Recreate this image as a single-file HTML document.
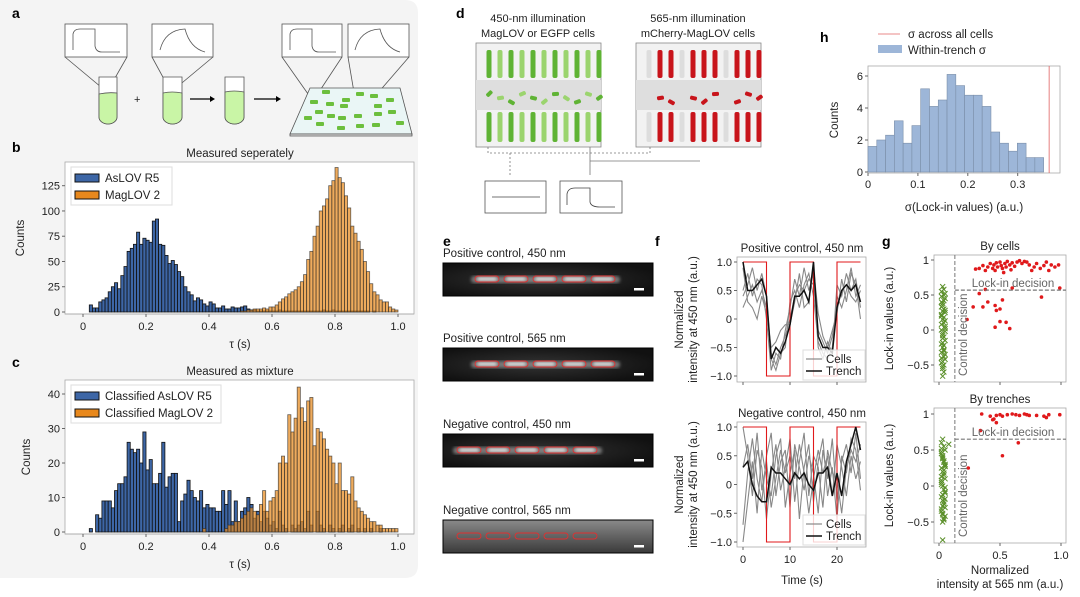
<!DOCTYPE html>
<html><head><meta charset="utf-8"><style>
body{margin:0;background:#fff;}
svg{display:block;font-family:"Liberation Sans",sans-serif;}
.t{font-size:11px;fill:#222}
.L{font-size:14px;font-weight:bold;fill:#000}
</style></head><body>
<svg id="fig" width="1080" height="597" viewBox="0 0 1080 597">
<path d="M0 0 H405 Q418 0 418 13 V565 Q418 578 405 578 H0 Z" fill="#f4f4f4"/>
<text class="L" x="12" y="18">a</text>
<text class="L" x="12" y="152">b</text>
<text class="L" x="12" y="367">c</text>
<text class="L" x="456" y="18">d</text>
<text class="L" x="443" y="246">e</text>
<text class="L" x="655" y="246">f</text>
<text class="L" x="882" y="246">g</text>
<text class="L" x="820" y="42">h</text>
<g id="pa" stroke="#555" fill="none" stroke-width="0.8">
 <rect x="65" y="24" width="62" height="33" fill="#fff"/>
 <path d="M73 50 V34 Q74 29 80 29 H95 V46 Q96 52 102 52 H120" />
 <rect x="152" y="24" width="61" height="33" fill="#fff"/>
 <path d="M160 50 Q165 30 185 29 Q190 48 205 52" />
 <rect x="282" y="24" width="60" height="33" fill="#fff"/>
 <path d="M290 50 V34 Q291 29 297 29 H312 V46 Q313 52 319 52 H336" />
 <rect x="348" y="24" width="61" height="33" fill="#fff"/>
 <path d="M355 50 Q360 30 380 29 Q385 48 400 52" />
 <path d="M65 57 L107 92 L127 57 M152 57 L171 92 L213 57 M282 57 L313 101 L342 57 M348 57 L358 116 L409 57"/>
 <path d="M99 77 V117 A9 7 0 0 0 117 117 V77 Z" fill="#fff"/>
 <path d="M99 94 Q108 92 117 93 V117 A9 7 0 0 1 99 117 Z" fill="#c9f5a6"/>
 <path d="M163 77 V117 A9.5 7 0 0 0 182 117 V77 Z" fill="#fff"/>
 <path d="M163 93 Q172 91 182 93 V117 A9.5 7 0 0 1 163 117 Z" fill="#c9f5a6"/>
 <path d="M225 77 V117 A9.5 7 0 0 0 244 117 V77 Z" fill="#fff"/>
 <path d="M225 92 Q234 90 244 92 V117 A9.5 7 0 0 1 225 117 Z" fill="#c9f5a6"/>
 <path d="M310 88 H400 L412 134 H290 Z" fill="#eaf6f6"/>
 <path d="M290 134 H412 V136 H290 Z" fill="#ddd"/>
 <text x="134" y="103" stroke="none" fill="#222" font-size="11">+</text>
 <path d="M190 99 H210 M254 99 H276" stroke="#000" stroke-width="1.3"/>
 <path d="M210 96 L215 99 L210 102 Z M276 96 L281 99 L276 102 Z" fill="#000" stroke="none"/>
 <g fill="#6cbf3e" stroke="none">
  <rect x="310" y="100" width="8" height="4" rx="1"/><rect x="322" y="90" width="8" height="4" rx="1"/><rect x="326" y="102" width="8" height="4" rx="1"/><rect x="342" y="98" width="8" height="4" rx="1"/><rect x="356" y="92" width="8" height="4" rx="1"/><rect x="370" y="94" width="8" height="4" rx="1"/><rect x="386" y="98" width="8" height="4" rx="1"/><rect x="315" y="110" width="8" height="4" rx="1"/><rect x="327" y="114" width="8" height="4" rx="1"/><rect x="340" y="104" width="8" height="4" rx="1"/><rect x="304" y="116" width="8" height="4" rx="1"/><rect x="316" y="122" width="8" height="4" rx="1"/><rect x="338" y="116" width="8" height="4" rx="1"/><rect x="354" y="114" width="8" height="4" rx="1"/><rect x="374" y="112" width="8" height="4" rx="1"/><rect x="388" y="110" width="8" height="4" rx="1"/><rect x="337" y="126" width="8" height="4" rx="1"/><rect x="356" y="124" width="8" height="4" rx="1"/><rect x="372" y="123" width="8" height="4" rx="1"/><rect x="396" y="121" width="8" height="4" rx="1"/><rect x="374" y="104" width="8" height="4" rx="1"/>
 </g>
</g>
<g id="pd">
 <text class="t" x="538" y="22" text-anchor="middle" font-size="12">450-nm illumination</text>
 <text class="t" x="538" y="37" text-anchor="middle" font-size="12">MagLOV or EGFP cells</text>
 <text class="t" x="698" y="22" text-anchor="middle" font-size="12">565-nm illumination</text>
 <text class="t" x="698" y="37" text-anchor="middle" font-size="12">mCherry-MagLOV cells</text>
 <rect x="476" y="43" width="125" height="104" fill="#f2f2f2" stroke="#888" stroke-width="0.8"/>
 <rect x="476" y="80" width="125" height="30" fill="#dedede"/>
 <rect x="636" y="43" width="125" height="104" fill="#f2f2f2" stroke="#888" stroke-width="0.8"/>
 <rect x="636" y="80" width="125" height="30" fill="#dedede"/>
 <g id="dcols"></g>
 <path d="M488 147 V153 H650 V147 M510 153 V175" stroke="#777" stroke-dasharray="2,2" fill="none" stroke-width="0.8"/>
 <path d="M590 147 V175 M590 161 H700" stroke="#777" fill="none" stroke-width="0.8"/>
 <rect x="485" y="181" width="61" height="32" fill="#fff" stroke="#555" stroke-width="0.8"/>
 <path d="M492 197 H540" stroke="#444" stroke-width="0.8"/>
 <rect x="560" y="181" width="62" height="32" fill="#fff" stroke="#555" stroke-width="0.8"/>
 <path d="M567 205 V194 Q568 188 575 188 H590 V202 Q591 207 600 207 H615" stroke="#444" fill="none" stroke-width="0.8"/>
</g>
<g id="pe">
 <defs>
  <radialGradient id="gl" cx="0.45" cy="0.5" r="0.6"><stop offset="0" stop-color="#333"/><stop offset="1" stop-color="#111"/></radialGradient>
  <linearGradient id="gn" x1="0" y1="0" x2="0" y2="1"><stop offset="0" stop-color="#8a8a8a"/><stop offset="1" stop-color="#3a3a3a"/></linearGradient>
  <filter id="blur"><feGaussianBlur stdDeviation="1.6"/></filter>
 </defs>
</g>
<g id="charts"></g>
</svg>
<script>
// ---------- data ----------
const blueB = [0,0,7,4,4,10,12,14,20,25,29,23,36,45,60,63,67,79,67,73,71,69,90,92,67,66,56,48,51,47,40,35,25,20,17,11,14,12,8,6,10,8,4,4,6,3,3,5,4,4,5,6,3,2,2,1,1,1,1,1,1,1,2,1,1,1,1,1,1,1,1,1,1,1,1,1,2,1,1,2,1,1,1,1,1,1,1,1,1,1,1,0,1,0,0,0,0,0,0,0];
const orangeB = [0,0,0,0,0,0,0,0,0,0,0,0,0,0,0,0,0,0,0,0,0,0,0,0,0,0,0,0,0,0,0,0,0,0,0,0,0,0,0,0,0,0,0,0,0,0,0,0,0,0,1,1,2,2,3,3,3,4,3,5,5,7,10,13,15,18,20,22,25,30,37,52,60,75,85,100,105,112,125,130,143,133,128,115,103,85,78,70,62,50,40,28,20,17,12,10,10,5,3,2];
const blueC = [0,0,1,0,5,4,9,9,9,7,12,14,14,16,26,24,23,24,20,29,18,21,14,14,17,26,13,16,17,17,3,9,11,15,12,10,9,12,7,8,7,7,6,6,12,8,12,3,9,3,6,7,10,8,4,6,3,6,4,2,3,1,6,2,1,0,2,1,2,3,1,6,2,0,6,2,1,0,2,1,0,1,2,0,1,2,0,1,0,1,0,1,0,0,1,0,0,0,0,0];
const orangeC = [0,0,0,0,0,0,0,0,0,0,0,0,0,0,0,0,0,0,0,0,0,0,0,0,0,0,0,0,0,0,0,0,0,0,0,0,0,0,1,0,0,0,0,0,0,1,2,2,3,3,4,5,6,7,6,5,8,12,6,9,10,12,20,22,20,34,29,33,42,36,32,38,39,25,30,29,27,24,22,20,14,20,12,12,11,16,9,7,6,5,4,3,3,2,2,1,1,1,1,1];
const hTicksB = [0,25,50,75,100,125];
const hTicksC = [0,10,20,30,40];
const tauTicks = [0,0.2,0.4,0.6,0.8,1.0];
const sigmaCounts = [1.6,2,2.3,3.2,1.8,2.9,5.2,4.1,4.5,6.1,5.4,4.8,4.8,4.1,2.5,1.8,1.3,1.8,0.9,0.9];
const sigmaBinWidth = 0.0176;
const sigmaAll = 0.363;
const sigmaXTicks = [0,0.1,0.2,0.3];
const sigmaYTicks = [0,2,4,6];
const timeVals = [0,1,2,3,4,5,6,7,8,9,10,11,12,13,14,15,16,17,18,19,20,21,22,23,24,25];
const stimT = [0,5,5,10,10,15,15,20,20,25];
const stimV = [1,1,-1,-1,1,1,-1,-1,1,1];
const posCell1 = [0.2,0.4,0.6,0.3,0.5,0.2,-0.6,-0.8,-0.5,-0.3,0.0,0.4,0.6,0.5,0.7,0.6,-0.2,-0.4,-0.6,-0.3,0.2,0.5,0.6,0.4,0.3,0.5];
const posCell2 = [0.5,0.8,0.4,0.7,0.6,0.0,-0.9,-0.6,-0.7,-0.2,0.2,0.7,0.4,0.9,0.5,0.8,-0.5,-0.7,-0.4,-0.6,0.6,0.4,0.8,0.5,0.7,0.2];
const posCell3 = [0.9,0.3,0.2,0.0,0.4,0.1,-0.5,-0.4,-0.2,-0.1,-0.1,0.3,0.8,0.2,0.3,0.9,0.1,-0.3,-0.5,-0.2,0.1,0.7,0.3,0.8,0.6,0.0];
const posCell4 = [0.4,0.6,0.9,0.5,0.8,0.4,-0.7,-0.9,-0.6,-0.5,0.3,0.5,0.2,0.6,0.8,0.4,-0.4,-0.6,-0.7,-0.5,0.4,0.2,0.5,0.9,0.4,0.6];
const posTrench = [1.0,0.5,0.5,0.6,0.7,0.4,-0.7,-0.5,-0.6,-0.4,-0.1,0.4,0.4,0.5,0.3,1.0,-0.3,-0.5,-0.5,-0.6,0.2,0.5,0.6,0.5,0.6,0.3];
const negCell1 = [-0.7,0.2,0.8,0.1,-0.3,0.5,0.9,-0.2,0.4,0.6,-0.4,0.7,0.3,-0.1,0.5,0.2,-0.5,0.6,0.1,0.8,-0.3,0.4,0.7,0.2,0.9,0.1];
const negCell2 = [1.0,0.5,-0.2,0.6,0.3,-0.6,0.2,0.7,-0.1,0.3,0.8,-0.3,0.4,0.9,-0.2,0.5,0.3,-0.4,0.6,0.2,0.1,-0.5,0.3,0.6,0.4,0.7];
const negCell3 = [-1.0,-0.3,0.4,-0.5,0.6,0.1,-0.2,0.5,0.8,-0.4,0.2,0.6,-0.6,0.3,0.7,-0.3,0.4,0.8,-0.2,0.3,-0.6,0.5,0.2,0.8,0.6,-0.1];
const negCell4 = [0.3,0.7,0.1,0.9,-0.1,0.4,-0.4,0.1,0.6,0.2,0.5,0.1,0.7,0.2,-0.5,0.1,0.6,0.2,0.5,-0.2,0.7,0.3,-0.2,0.5,0.1,0.4];
const negTrench = [0.3,0.4,0.0,-0.2,-0.3,-0.3,0.3,0.2,0.2,0.1,0.0,0.2,0.1,0.2,0.0,-0.1,0.2,0.2,0.3,-0.2,0.2,-0.2,0.4,0.7,1.0,0.6];
const fYTicks = [-1.0,-0.5,0,0.5,1.0];
const fXTicks = [0,10,20];
const greenTopY = [0.62,0.55,0.5,0.45,0.4,0.35,0.3,0.25,0.2,0.15,0.1,0.05,0,-0.05,-0.1,-0.15,-0.2,-0.25,-0.3,-0.35,-0.4,-0.45,-0.5,-0.55,-0.66,0.58,0.48,0.38,0.28,0.18,0.08,-0.02,-0.12,-0.22,-0.32,-0.42,-0.52,0.42,0.22,0.02,-0.18,-0.38,0.33,0.13,-0.08,-0.28,-0.47,0.52,0.27,-0.6];
const greenTopX = [0.03,0.02,0.04,0.05,0.02,0.03,0.04,0.05,0.02,0.03,0.04,0.05,0.02,0.03,0.04,0.05,0.02,0.03,0.04,0.05,0.02,0.03,0.04,0.03,0.03,0.04,0.02,0.03,0.05,0.04,0.02,0.05,0.03,0.04,0.02,0.05,0.03,0.04,0.02,0.05,0.03,0.04,0.02,0.05,0.03,0.04,0.02,0.05,0.03,0.04];
const redTopX = [0.3,0.33,0.36,0.38,0.4,0.42,0.44,0.45,0.47,0.48,0.5,0.51,0.52,0.54,0.55,0.56,0.58,0.6,0.62,0.64,0.66,0.68,0.7,0.72,0.74,0.76,0.78,0.8,0.83,0.86,0.88,0.9,0.92,0.95,0.98,0.46,0.53,0.59,0.33,0.38,0.28,0.36,0.4,0.46,0.47,0.5,0.52,0.46,0.5,0.55,0.58,0.84,0.23,0.6,0.99];
const redTopY = [0.87,0.88,0.92,0.85,0.9,0.95,0.88,0.93,0.96,0.9,0.97,0.92,0.88,0.95,0.9,0.98,0.93,0.96,0.91,0.97,0.99,0.95,0.98,0.97,0.93,0.85,0.9,0.95,0.88,0.92,0.97,0.85,0.93,0.9,0.93,0.85,0.82,0.86,0.52,0.58,0.33,0.33,0.4,0.35,0.28,0.3,0.43,0.04,0.12,0.11,0.02,0.47,0.15,0.6,0.6];
const greenBotY = [0.65,0.6,0.55,0.5,0.45,0.4,0.35,0.3,0.25,0.2,0.15,0.1,0.05,0,-0.05,-0.1,-0.15,-0.2,-0.25,-0.3,-0.35,-0.4,-0.45,-0.5,-0.75,0.58,0.48,0.38,0.28,0.18,0.08,-0.02,-0.12,-0.22,-0.32,-0.42,0.42,0.22,0.02,-0.18,-0.38,0.33,0.13,-0.08,-0.28,-0.47,0.52,0.27];
const greenBotX = [0.03,0.02,0.04,0.05,0.02,0.03,0.04,0.05,0.02,0.03,0.04,0.05,0.02,0.03,0.04,0.05,0.02,0.03,0.04,0.05,0.02,0.03,0.04,0.03,0.03,0.08,0.02,0.03,0.05,0.04,0.02,0.05,0.03,0.04,0.02,0.05,0.03,0.04,0.02,0.05,0.03,0.04,0.02,0.05,0.03,0.04,0.02,0.05];
const redBotX = [0.35,0.42,0.45,0.47,0.5,0.52,0.56,0.6,0.63,0.66,0.7,0.72,0.74,0.8,0.86,0.88,0.9,0.99,0.47,0.44,0.34,0.65,0.52,0.24];
const redBotY = [1.0,0.97,0.93,0.98,0.99,0.97,0.99,1.0,0.99,0.98,1.0,0.99,0.98,0.98,0.97,0.95,0.99,0.99,0.88,0.92,0.77,0.6,0.42,0.25];
const gXTicks = [0,0.5,1.0];
const gYTicks = [-0.5,0,0.5,1.0];

// ---------- helpers ----------
const NS = "http://www.w3.org/2000/svg";
const root = document.getElementById('charts');
function mk(tag, attrs, parent){ const e=document.createElementNS(NS,tag); for(const k in attrs) e.setAttribute(k,attrs[k]); (parent||root).appendChild(e); return e; }
function txt(s,x,y,anchor,size,parent,rot){ const e=mk('text',{x:x,y:y,'text-anchor':anchor||'middle','font-size':size||11,fill:'#222'},parent); if(rot) e.setAttribute('transform','rotate(-90 '+x+' '+y+')'); e.textContent=s; return e; }
function lin(d0,d1,r0,r1){ return v=>r0+(v-d0)/(d1-d0)*(r1-r0); }
function fmt(v){ return v<0 ? '\u2212'+Math.abs(v).toFixed(String(v).includes('.')?1:0) : String(v); }

// ---------- histogram panels b, c ----------
function histPanel(name, box, ymax, yTicks, blue, orange, title, leg1, leg2, legW){
  const g = mk('g',{});
  
  
  const fr = mk('rect',{x:box.x0,y:box.y0,width:box.x1-box.x0,height:box.y1-box.y0,fill:'#fff',stroke:'#aaa','stroke-width':0.8},g);
  
  
  const X = lin(0,1,83,398), Y = lin(0,ymax.v,box.base,ymax.px);
  const bw = X(0.01)-X(0);
  blue.forEach((c,i)=>{ if(c<=0) return;
    const r = mk('rect',{x:X(i*0.01),y:Y(c),width:bw,height:box.base-Y(c),fill:'#3d66a6',stroke:'#111','stroke-width':0.8},g);
    
    
  });
  orange.forEach((c,i)=>{ if(c<=0) return;
    const r = mk('rect',{x:X(i*0.01),y:Y(c),width:bw,height:box.base-Y(c),fill:'rgba(232,138,30,0.72)',stroke:'rgba(40,40,40,0.7)','stroke-width':0.8},g);
    
    
  });
  mk('line',{x1:box.x0,x2:box.x1,y1:box.y1,y2:box.y1,stroke:'#aaa','stroke-width':0.8},g);
  yTicks.forEach(t=>{ mk('line',{x1:box.x0-3,x2:box.x0,y1:Y(t),y2:Y(t),stroke:'#666'},g);
    const l=txt(String(t),box.x0-5,Y(t)+4,'end',11,g);
    
     });
  tauTicks.forEach(t=>{ mk('line',{x1:X(t),x2:X(t),y1:box.y1,y2:box.y1+3,stroke:'#666'},g);
    const l=txt(t===0?'0':t.toFixed(1),X(t),box.y1+16,'middle',11,g);
    
     });
  const tl=txt(title,240,box.y0-5,'middle',11.5,g);
  
  
  const xl=txt('\u03c4 (s)',240,box.y1+34,'middle',11.5,g);
  
  
  const yl=txt('Counts',box.ylx,(box.y0+box.y1)/2,'middle',11.5,g,true);
  
  
  const lg = mk('g',{},g);
  
  
  mk('rect',{x:71,y:box.y0+5,width:legW,height:38,fill:'#fff',stroke:'#ddd'},lg);
  mk('rect',{x:75,y:box.y0+12,width:24,height:8,fill:'#3d66a6',stroke:'#111'},lg);
  mk('rect',{x:75,y:box.y0+29,width:24,height:8,fill:'#e8881c',stroke:'#111'},lg);
  const e1=txt(leg1,105,box.y0+20,'start',11.5,lg);
  
  
  const e2=txt(leg2,105,box.y0+37,'start',11.5,lg);
  
  
}
histPanel('panel-b-histogram',{x0:65,x1:414,y0:162,y1:314,base:312,ylx:24},{v:125,px:185.7},hTicksB,blueB,orangeB,'Measured seperately','AsLOV R5','MagLOV 2',101);
histPanel('panel-c-histogram',{x0:65,x1:414,y0:380,y1:534,base:532,ylx:30},{v:40,px:394},hTicksC,blueC,orangeC,'Measured as mixture','Classified AsLOV R5','Classified MagLOV 2',150);

// ---------- panel h ----------
(function(){
  const g = mk('g',{});
  
  
  const x0=868,x1=1060,y0=66,y1=173;
  mk('rect',{x:x0,y:y0,width:x1-x0,height:y1-y0,fill:'#fff',stroke:'#aaa','stroke-width':0.8},g);
  const X=lin(0,0.3,868,1017.7), Y=lin(0,6,172,76);
  sigmaCounts.forEach((c,i)=>{
    const r=mk('rect',{x:X(i*sigmaBinWidth),y:Y(c),width:X(sigmaBinWidth)-X(0),height:172-Y(c),fill:'#9db6d8',stroke:'#7a8ea8','stroke-width':0.6},g);
    
    
  });
  const rl=mk('line',{x1:X(sigmaAll),x2:X(sigmaAll),y1:y0,y2:y1,stroke:'#e06060','stroke-width':0.8},g);
  
  
  sigmaXTicks.forEach(t=>{ mk('line',{x1:X(t),x2:X(t),y1:y1,y2:y1+3,stroke:'#666'},g);
    const l=txt(t===0?'0':t.toFixed(1),X(t),y1+15,'middle',11,g);
    
     });
  sigmaYTicks.forEach(t=>{ mk('line',{x1:x0-3,x2:x0,y1:Y(t),y2:Y(t),stroke:'#666'},g);
    const l=txt(String(t),x0-5,Y(t)+4,'end',11,g);
    
     });
  const xl=txt('\u03c3(Lock-in values) (a.u.)',964,211,'middle',11.5,g);
  
  
  const yl=txt('Counts',838,120,'middle',11.5,g,true);
  
  
  mk('line',{x1:878,x2:900,y1:34,y2:34,stroke:'#e06060','stroke-width':0.8},g);
  mk('rect',{x:878,y:45,width:24,height:8,fill:'#9db6d8'},g);
  const a=txt('\u03c3 across all cells',908,38,'start',11.5,g);
  
  
  const b=txt('Within-trench \u03c3',908,54,'start',11.5,g);
  
  
})();

// ---------- panel f ----------
function tracePanel(name, y0, y1, yTop, yBot, title, cells, trench, showX){
  const g = mk('g',{});
  
  
  const x0=737,x1=866;
  mk('rect',{x:x0,y:y0,width:x1-x0,height:y1-y0,fill:'#fff',stroke:'#aaa','stroke-width':0.8},g);
  const X=lin(0,20,743,837), Y=lin(-1,1,yBot,yTop);
  const pts=(xs,ys)=>xs.map((t,i)=>X(t).toFixed(1)+','+Y(ys[i]).toFixed(1)).join(' ');
  cells.forEach(c=>{ const p=mk('polyline',{points:pts(timeVals,c),fill:'none',stroke:'#888','stroke-width':1.1},g);
    
     });
  const s=mk('polyline',{points:pts(stimT,stimV),fill:'none',stroke:'#e0191b','stroke-width':1.1},g);
  
  
  const tr=mk('polyline',{points:pts(timeVals,trench),fill:'none',stroke:'#111','stroke-width':1.5},g);
  
  
  fYTicks.forEach(t=>{ mk('line',{x1:x0-3,x2:x0,y1:Y(t),y2:Y(t),stroke:'#666'},g);
    const l=txt(t===0?'0':fmt(t).replace(/^(\u2212?\d)$/,'$1.0'),x0-5,Y(t)+4,'end',11,g);
    
     });
  fXTicks.forEach(t=>{ mk('line',{x1:X(t),x2:X(t),y1:y1,y2:y1+3,stroke:'#666'},g);
    if(showX){ const l=txt(String(t),X(t),y1+16,'middle',11,g);
      
       } });
  const tl=txt(title,802,y0-5,'middle',11.5,g);
  
  
  const y1l=txt('Normalized',683,(y0+y1)/2,'middle',11.5,g,true);
  
  
  const y2l=txt('intensity at 450 nm (a.u.)',697,(y0+y1)/2,'middle',11.5,g,true);
  
  
  const lg=mk('g',{},g);
  
  
  mk('rect',{x:803,y:y1-32,width:62,height:30,fill:'rgba(255,255,255,0.8)',stroke:'#ddd'},lg);
  mk('line',{x1:806,x2:822,y1:y1-23,y2:y1-23,stroke:'#888','stroke-width':1.2},lg);
  mk('line',{x1:806,x2:822,y1:y1-11,y2:y1-11,stroke:'#111','stroke-width':1.5},lg);
  const c1=txt('Cells',826,y1-19,'start',11.5,lg);
  
  
  const c2=txt('Trench',826,y1-7,'start',11.5,lg);
  
  
}
tracePanel('panel-f-positive',257,382,262,376,'Positive control, 450 nm',[posCell1,posCell2,posCell3,posCell4],posTrench,false);
tracePanel('panel-f-negative',422,547,427,542,'Negative control, 450 nm',[negCell1,negCell2,negCell3,negCell4],negTrench,true);
{ const l=txt('Time (s)',802,584,'middle',11.5);
  
   }

// ---------- panel g ----------
function scatterPanel(name,y0,y1,yOne,yZero,title,gx,gy,rx,ry,thr,showX){
  const g = mk('g',{});
  
  
  const x0=934,x1=1066;
  mk('rect',{x:x0,y:y0,width:x1-x0,height:y1-y0,fill:'#fff',stroke:'#aaa','stroke-width':0.8},g);
  const X=lin(0,1,939,1061), Y=lin(0,1,yZero,yOne);
  gx.forEach((v,i)=>{ const x=X(v),y=Y(gy[i]);
    const m=mk('path',{d:`M${x-2.5} ${y-2.5}L${x+2.5} ${y+2.5}M${x-2.5} ${y+2.5}L${x+2.5} ${y-2.5}`,stroke:'#5a8f29','stroke-width':1},g);
    
     });
  rx.forEach((v,i)=>{ const c=mk('circle',{cx:X(v),cy:Y(ry[i]),r:1.8,fill:'#e0191b'},g);
    
     });
  const vl=mk('line',{x1:X(0.13),x2:X(0.13),y1:y0,y2:y1,stroke:'#777','stroke-dasharray':'4,2'},g);
  
  
  const hl=mk('line',{x1:X(0.13),x2:x1,y1:Y(thr),y2:Y(thr),stroke:'#777','stroke-dasharray':'4,2','stroke-width':1.2},g);
  
  
  const a=txt('Lock-in decision',1013,Y(thr)-3,'middle',11.5,g);
  a.setAttribute('fill','#666');
  
  
  const b=txt('Control decision',967,y1-6,'start',11.5,g,true);
  b.setAttribute('fill','#666');
  
  
  gYTicks.forEach(t=>{ mk('line',{x1:x0-3,x2:x0,y1:Y(t),y2:Y(t),stroke:'#666'},g);
    const l=txt(t===0?'0':fmt(t),x0-5,Y(t)+4,'end',11,g);
    
     });
  gXTicks.forEach(t=>{ mk('line',{x1:X(t),x2:X(t),y1:y1,y2:y1+3,stroke:'#666'},g);
    if(showX){ const l=txt(t===0?'0':t.toFixed(1),X(t),y1+16,'middle',11,g);
      
       } });
  const tl=txt(title,1000,y0-5,'middle',11.5,g);
  
  
  const yl=txt('Lock-in values (a.u.)',893,(y0+y1)/2,'middle',11.5,g,true);
  
  
}
scatterPanel('panel-g-by-cells',255,382,260,330,'By cells',greenTopX,greenTopY,redTopX,redTopY,0.57,false);
scatterPanel('panel-g-by-trenches',408,543,414,486,'By trenches',greenBotX,greenBotY,redBotX,redBotY,0.65,true);
{ const l1=txt('Normalized',1000,574,'middle',11.5);
  
  
  const l2=txt('intensity at 565 nm (a.u.)',1000,588,'middle',11.5);
  
   }

// ---------- panel d columns (illustration) ----------
const dc=document.getElementById('dcols');
for(let i=0;i<11;i++){
  const xl=489+i*11, xr=649+i*11;
  const gr = i%2?'#9bd46e':'#5fb334';
  mk('rect',{x:xl-2.5,y:50,width:5,height:28,rx:2,fill:gr},dc);
  mk('rect',{x:xl-2.5,y:112,width:5,height:30,rx:2,fill:gr},dc);
  const red = (i===0||i===3||i===7)?'#ddd':'#c8141b';
  mk('rect',{x:xr-2.5,y:50,width:5,height:28,rx:2,fill:red},dc);
  mk('rect',{x:xr-2.5,y:112,width:5,height:30,rx:2,fill:red},dc);
  mk('rect',{x:xl-3,y:92+(i%3)*4,width:7,height:4,rx:1.5,fill:gr,transform:`rotate(${(i*37)%90-45} ${xl} ${94+(i%3)*4})`},dc);
  if(red!=='#ddd') mk('rect',{x:xr-3,y:92+(i%3)*4,width:7,height:4,rx:1.5,fill:red,transform:`rotate(${(i*37)%90-45} ${xr} ${94+(i%3)*4})`},dc);
}

// ---------- panel e micrographs (illustration) ----------
const pe=document.getElementById('pe');
const eTitles=['Positive control, 450 nm','Positive control, 565 nm','Negative control, 450 nm','Negative control, 565 nm'];
const eY=[263,348,434,520];
const eStart=[475,475,457,457];
eTitles.forEach((t,k)=>{
  const l=txt(t,443,eY[k]-6,'start',11.5,pe);
  
  
  const r=mk('rect',{x:443,y:eY[k],width:210,height:33,fill:k===3?'url(#gn)':'url(#gl)',stroke:'#000'},pe);
  
  
  if(k<3) mk('rect',{x:eStart[k]-4,y:eY[k]+13,width:5*29+4,height:7,rx:3,fill:'#bbb',opacity:0.55,filter:'url(#blur)'},pe);
  for(let j=0;j<5;j++){
    const cx=eStart[k]+j*29;
    if(k<3) mk('rect',{x:cx+2,y:eY[k]+14,width:20,height:4,rx:2,fill:'#f0f0f0',opacity:0.85,filter:'url(#blur)'},pe);
    mk('rect',{x:cx,y:eY[k]+13,width:24,height:6,rx:3,fill:'none',stroke:'#e03030','stroke-width':0.9},pe);
  }
  mk('rect',{x:634,y:eY[k]+25,width:10,height:2.5,fill:'#fff'},pe);
});
</script>
</body></html>
